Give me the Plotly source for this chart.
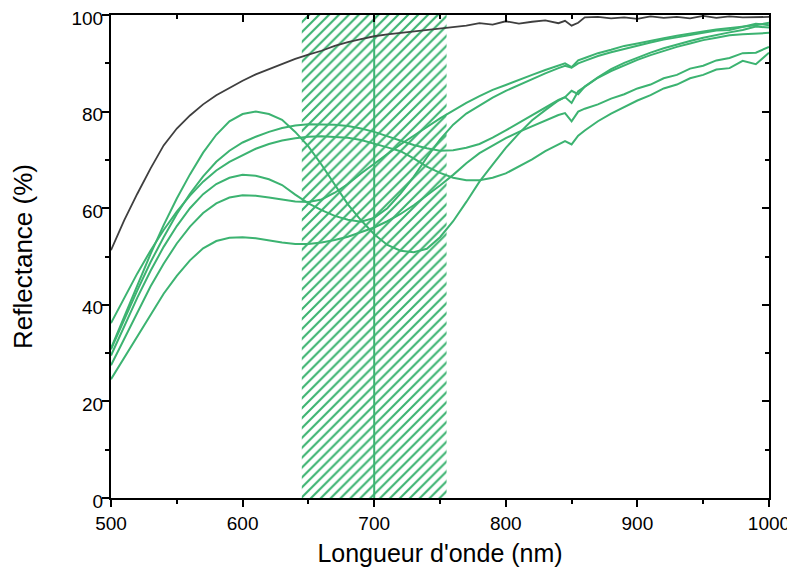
import plotly.graph_objects as go

wavelength = [500, 510, 520, 530, 540, 550, 560, 570, 580, 590, 600, 610, 620, 630, 640, 650,
              660, 670, 680, 690, 700, 710, 720, 730, 740, 750, 760, 770, 780, 790, 800, 810,
              820, 830, 840, 845, 850, 855, 860, 870, 880, 890, 900, 910, 920, 930, 940, 950,
              960, 970, 980, 990, 1000]

reference = [51.3, 57.5, 63.0, 68.2, 73.0, 76.5, 79.2, 81.5, 83.4, 84.9, 86.4, 87.7, 88.8, 89.9, 90.9, 91.8,
             92.6, 93.6, 94.4, 95.0, 95.6, 96.0, 96.3, 96.6, 96.9, 97.2, 97.5, 97.8, 98.3, 98.0, 98.7, 98.2,
             98.6, 98.9, 98.3, 98.8, 97.8, 98.4, 99.5, 99.6, 99.3, 99.5, 99.2, 99.7, 99.4, 99.6, 99.3, 99.8,
             99.4, 99.7, 99.5, 99.6, 99.6]

sample_a = [31.0, 37.5, 44.0, 50.5, 56.5, 62.0, 67.0, 71.5, 75.2, 78.0, 79.5, 80.0, 79.5, 78.3, 75.8, 72.8,
            69.0, 64.8, 60.8, 57.5, 54.6, 52.4, 51.2, 50.9, 51.6, 54.0, 57.3, 61.3, 65.5, 69.0, 72.5, 75.5,
            78.2, 80.3, 82.3, 83.0, 81.8, 84.2, 85.1, 87.0, 88.4, 89.6, 90.7, 91.7, 92.6, 93.4, 94.1, 94.8,
            95.3, 95.8, 96.0, 96.2, 96.3]

sample_b = [30.8, 37.0, 43.0, 48.8, 54.0, 58.8, 63.0, 66.6, 69.6, 71.9, 73.6, 74.8, 75.8, 76.6, 77.1, 77.4,
            77.4, 77.3, 77.0, 76.5, 75.8, 74.9, 74.0, 73.1, 72.4, 71.9, 72.0, 72.5, 73.3, 74.6, 76.1, 77.7,
            79.3, 80.9, 82.4, 83.0, 84.3, 83.6, 85.2, 87.1, 88.8, 90.1, 91.2, 92.2, 93.1, 93.9, 94.6, 95.3,
            95.9, 96.4, 96.9, 97.6, 97.4]

sample_c = [36.2, 41.5, 46.5, 51.2, 55.5, 59.3, 62.6, 65.5, 67.8, 69.6, 71.0, 72.3, 73.3, 74.0, 74.5, 74.8,
            74.9, 74.8, 74.6, 74.1, 73.4, 72.6, 71.8, 70.3, 68.6, 67.3, 66.3, 65.8, 65.8, 66.3, 67.2, 68.6,
            70.1, 71.8, 73.3, 73.9, 73.2, 75.0, 76.1, 78.0, 79.6, 81.0, 82.3, 83.4, 84.8, 85.6, 86.9, 87.6,
            88.7, 89.0, 90.5, 89.8, 92.2]

sample_d = [29.5, 35.5, 41.5, 47.0, 52.0, 56.3, 60.0, 62.9, 65.0, 66.3, 66.9, 66.7, 66.0, 64.8, 62.8, 61.0,
            59.6, 58.4, 57.6, 57.2, 58.0, 60.0, 63.0, 66.5, 70.5, 74.2, 77.3, 79.6, 81.3, 82.9, 84.3, 85.5,
            86.8, 87.9, 89.0, 89.5, 89.1, 90.0, 90.5, 91.5, 92.3, 93.0, 93.7, 94.3, 94.9, 95.4, 95.9, 96.3,
            96.8, 96.9, 97.5, 98.2, 97.9]

sample_e = [27.5, 33.0, 38.5, 43.8, 48.5, 52.7, 56.2, 59.0, 61.0, 62.2, 62.7, 62.6, 62.2, 61.8, 61.4, 61.3,
            61.8, 63.2, 65.0, 67.2, 69.2, 71.2, 73.2, 75.0, 76.8, 78.6, 80.2, 81.8, 83.2, 84.5, 85.5, 86.6,
            87.6, 88.6, 89.6, 90.0, 89.2, 90.6, 91.1, 92.1, 92.8, 93.6, 94.1, 94.7, 95.2, 95.7, 96.2, 96.6,
            97.0, 97.3, 97.7, 97.9, 98.4]

sample_f = [24.6, 29.0, 33.5, 38.0, 42.3, 46.0, 49.2, 51.7, 53.2, 53.9, 54.0, 53.8, 53.3, 52.9, 52.6, 52.6,
            52.9, 53.4, 54.1, 55.0, 56.0, 57.3, 58.8, 60.6, 62.6, 64.7, 66.9, 69.3, 71.4, 73.0, 74.5, 75.8,
            77.0, 78.2, 79.3, 79.7, 78.0, 80.0, 80.6, 81.5, 82.7, 83.6, 84.8, 85.6, 86.9, 87.6, 88.9, 89.5,
            90.6, 91.1, 92.1, 92.2, 93.4]

band_x = [645, 755, 755, 645, 645]
band_y = [0, 0, 100, 100, 0]
center_x = [700, 700]
center_y = [0, 100]

GREEN = "#3cb371"
DARK = "#3f3f3f"
FONT = "Liberation Sans, Arial, sans-serif"

fig = go.Figure()

fig.add_trace(go.Scatter(
    x=band_x, y=band_y, mode="lines", fill="toself",
    fillcolor="rgba(0,0,0,0)", line=dict(width=0),
    fillpattern=dict(shape="/", fgcolor=GREEN, fgopacity=1, bgcolor="rgba(255,255,255,0)",
                     size=7, solidity=0.3),
    hoverinfo="skip", showlegend=False))

fig.add_trace(go.Scatter(x=center_x, y=center_y, mode="lines",
                         line=dict(color=GREEN, width=2), showlegend=False))

for s in [sample_a, sample_b, sample_c, sample_d, sample_e, sample_f]:
    fig.add_trace(go.Scatter(x=wavelength, y=s, mode="lines",
                             line=dict(color=GREEN, width=2), showlegend=False))

fig.add_trace(go.Scatter(x=wavelength, y=reference, mode="lines",
                         line=dict(color=DARK, width=1.8), showlegend=False))

common = dict(showline=True, linewidth=2, linecolor="black", showgrid=False,
              zeroline=False, automargin=False, tickwidth=2, tickcolor="black",
              tickmode="linear")

# page body has an 8px margin: figure is sized so the plot area lands at x 111-769, y 15-498
fig.update_layout(
    width=787, height=571,
    margin=dict(l=103, r=26, t=7, b=81),
    paper_bgcolor="white", plot_bgcolor="white",
    font=dict(family=FONT, size=19, color="black"),
    xaxis=dict(range=[500, 1000], tick0=500, dtick=100, ticks="outside", ticklen=7,
               minor=dict(dtick=50, ticks="outside", ticklen=4, tickwidth=2, tickcolor="black"),
               title=dict(text="Longueur d'onde (nm)", font=dict(size=25, family=FONT), standoff=12),
               tickfont=dict(size=19, family=FONT), ticklabeloverflow="allow", **common),
    yaxis=dict(range=[0, 100], tick0=0, dtick=20, ticks="outside", ticklen=2,
               minor=dict(dtick=10, ticks="outside", ticklen=4, tickwidth=2, tickcolor="black"),
               title=dict(text="Reflectance (%)", font=dict(size=26, family=FONT), standoff=36),
               tickfont=dict(size=19, family=FONT), ticklabeloverflow="allow",
               ticklabelshift=3, **common),
    yaxis3=dict(range=[0, 100], overlaying="y", side="left", tick0=0, dtick=20,
                ticks="outside", ticklen=7, showticklabels=False, **common),
    xaxis2=dict(range=[500, 1000], overlaying="x", side="top", tick0=500, dtick=100,
                ticks="inside", ticklen=7,
                minor=dict(dtick=50, ticks="inside", ticklen=4, tickwidth=2, tickcolor="black"),
                showticklabels=False, **common),
    yaxis2=dict(range=[0, 100], overlaying="y", side="right", tick0=0, dtick=20,
                ticks="inside", ticklen=7,
                minor=dict(dtick=10, ticks="inside", ticklen=4, tickwidth=2, tickcolor="black"),
                showticklabels=False, **common),
)

fig.add_trace(go.Scatter(x=[500], y=[0], xaxis="x2", yaxis="y2", mode="markers",
                         marker=dict(opacity=0), hoverinfo="skip", showlegend=False))
fig.add_trace(go.Scatter(x=[500], y=[0], xaxis="x", yaxis="y3", mode="markers",
                         marker=dict(opacity=0), hoverinfo="skip", showlegend=False))

fig.write_html("out.html")
